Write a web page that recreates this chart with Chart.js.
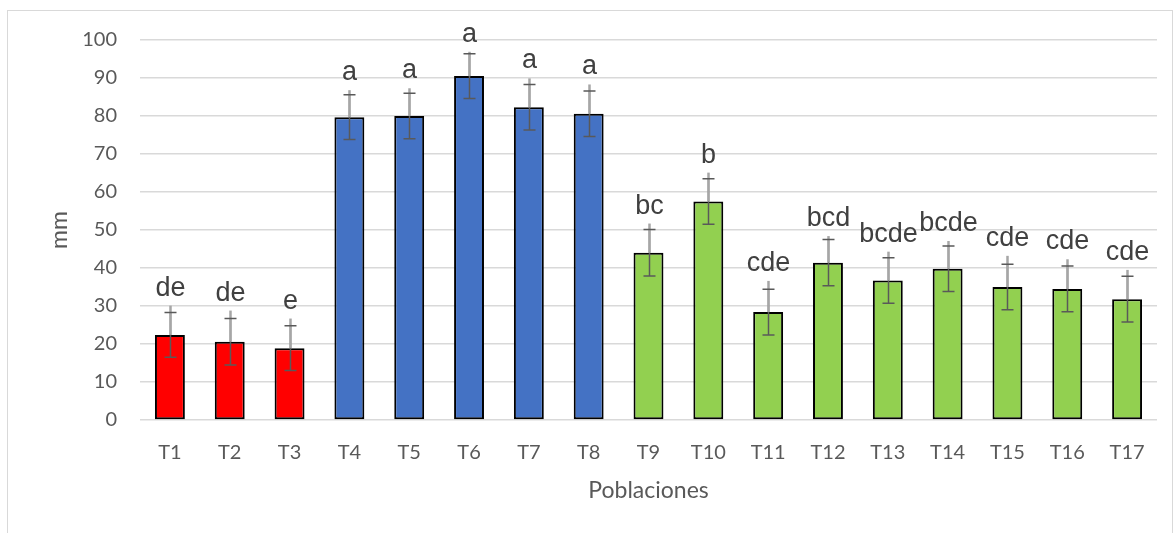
<!DOCTYPE html>
<html>
<head>
<meta charset="utf-8">
<script src="https://cdn.jsdelivr.net/npm/chart.js@4/dist/chart.umd.min.js"></script>
<style>
  html, body { margin: 0; padding: 0; background: #fff; }
  #wrap { position: relative; width: 1176px; height: 533px; }
</style>
</head>
<body>
<div id="wrap"><canvas id="chart"></canvas></div>
<script>
// data
const categories = ['T1','T2','T3','T4','T5','T6','T7','T8','T9','T10','T11','T12','T13','T14','T15','T16','T17'];
const means = [22.4, 20.6, 18.9, 79.7, 80.0, 90.5, 82.3, 80.6, 44.0, 57.5, 28.4, 41.4, 36.7, 39.8, 35.0, 34.5, 31.8];
const sd = [5.9, 6.1, 5.9, 5.9, 6.0, 5.9, 6.0, 6.0, 6.1, 6.0, 6.0, 6.1, 6.0, 6.0, 6.0, 6.0, 6.0];
const whiskerTop = [30.1, 28.8, 26.7, 86.8, 87.3, 96.9, 89.9, 88.3, 51.7, 65.1, 36.6, 48.4, 44.3, 47.1, 43.2, 42.3, 39.5];
const letters = ['de','de','e','a','a','a','a','a','bc','b','cde','bcd','bcde','bcde','cde','cde','cde'];
const groupColors = ['#ff0000','#ff0000','#ff0000','#4472c4','#4472c4','#4472c4','#4472c4','#4472c4',
  '#92d050','#92d050','#92d050','#92d050','#92d050','#92d050','#92d050','#92d050','#92d050'];
const yTicks = [0, 10, 20, 30, 40, 50, 60, 70, 80, 90, 100];

// outer frame like the excel chart area
const framePlugin = {
  id: 'frame',
  beforeDraw(chart) {
    const ctx = chart.ctx;
    ctx.save();
    ctx.strokeStyle = '#d9d9d9';
    ctx.lineWidth = 1;
    ctx.strokeRect(7.5, 10.5, 1165, 540);
    ctx.restore();
  }
};

// error bars + significance letters
const errorPlugin = {
  id: 'errors',
  afterDatasetsDraw(chart) {
    const ctx = chart.ctx;
    const y = chart.scales.y;
    const meta = chart.getDatasetMeta(0);
    ctx.save();
    meta.data.forEach((bar, i) => {
      const x = Math.round(bar.x) + 0.5;
      const yMean = y.getPixelForValue(means[i]);
      const yLow = y.getPixelForValue(means[i] - sd[i]);
      const yHigh = y.getPixelForValue(means[i] + sd[i]);
      const yTop = y.getPixelForValue(whiskerTop[i]);
      // dark bar with caps
      ctx.strokeStyle = '#595959';
      ctx.lineWidth = 1.5;
      ctx.beginPath();
      ctx.moveTo(x, yLow);
      ctx.lineTo(x, yHigh);
      ctx.stroke();
      // light plus-only whisker
      ctx.strokeStyle = '#a6a6a6';
      ctx.lineWidth = 2.5;
      ctx.beginPath();
      ctx.moveTo(x, yMean);
      ctx.lineTo(x, yTop);
      ctx.stroke();
      // caps
      ctx.strokeStyle = '#595959';
      ctx.lineWidth = 1.5;
      ctx.beginPath();
      ctx.moveTo(x - 6, yLow);
      ctx.lineTo(x + 6, yLow);
      ctx.moveTo(x - 6, yHigh);
      ctx.lineTo(x + 6, yHigh);
      ctx.stroke();
      // letter
      ctx.fillStyle = '#404040';
      ctx.font = '27px "Liberation Sans", Arial, sans-serif';
      ctx.textAlign = 'center';
      ctx.textBaseline = 'alphabetic';
      ctx.fillText(letters[i], x, yTop - 10);
    });
    ctx.restore();
  }
};

const data = {
  labels: categories,
  datasets: [{
    label: 'mm',
    data: means,
    backgroundColor: groupColors,
    borderColor: '#000000',
    borderWidth: 2,
    borderSkipped: false,
    barPercentage: 0.5,
    categoryPercentage: 1
  }]
};

const config = {
  type: 'bar',
  data,
  options: {
    responsive: true,
    maintainAspectRatio: false,
    animation: false,
    layout: { padding: { left: 0, right: 19, top: 40, bottom: 0 } },
    plugins: {
      legend: { display: false },
      tooltip: { enabled: false }
    },
    scales: {
      x: {
        grid: { display: false, drawTicks: false },
        border: { display: false },
        ticks: {
          color: '#595959',
          padding: 21,
          font: { family: 'Lato', size: 20 }
        },
        title: {
          display: true,
          text: 'Poblaciones',
          color: '#595959',
          font: { family: 'Lato', size: 23 },
          padding: { top: 0, bottom: 29 }
        },
        afterFit(scale) { scale.height = 113; }
      },
      y: {
        min: 0,
        max: 100,
        afterBuildTicks(scale) { scale.ticks = yTicks.map(v => ({ value: v })); },
        grid: { color: '#d9d9d9', lineWidth: 1.5, drawTicks: false },
        border: { display: false },
        ticks: {
          color: '#595959',
          padding: 23,
          font: { family: 'Lato', size: 20 }
        },
        title: {
          display: true,
          text: 'mm',
          color: '#595959',
          font: { family: 'Lato', size: 23 },
          padding: { top: 46, bottom: 0 }
        },
        afterFit(scale) { scale.width = 140; }
      }
    }
  },
  plugins: [framePlugin, errorPlugin]
};

const myChart = new Chart(document.getElementById('chart'), config);
</script>
</body>
</html>
